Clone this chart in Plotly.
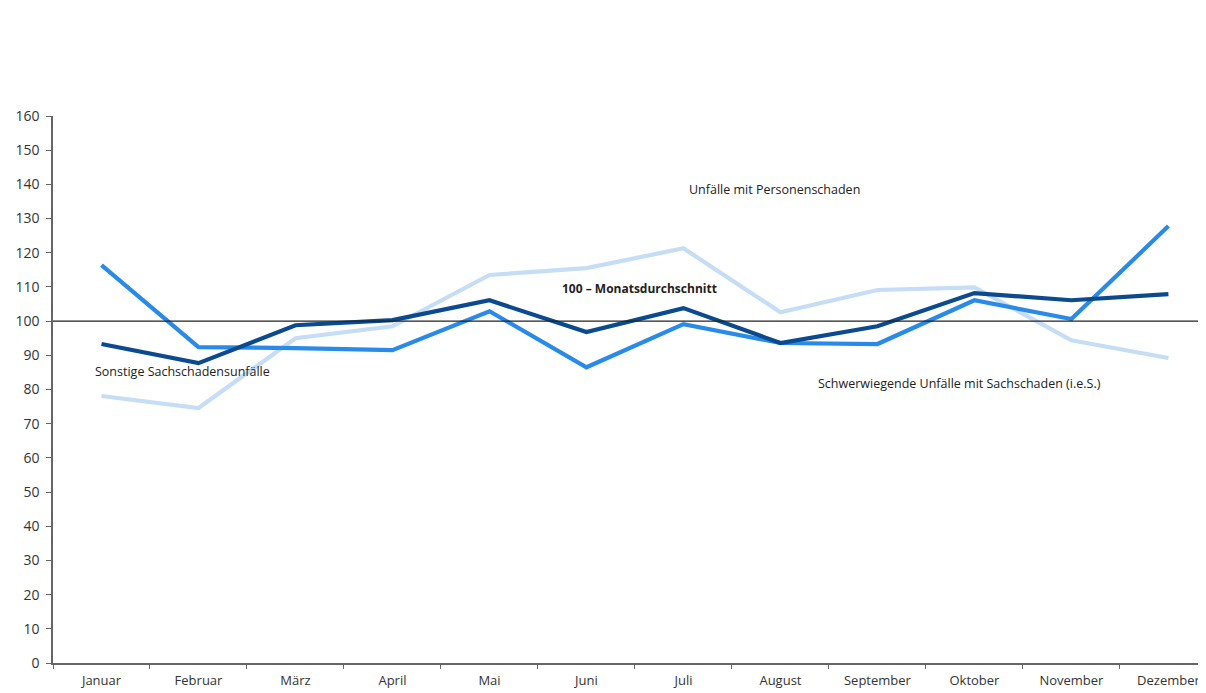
import plotly.graph_objects as go

months = ["Januar", "Februar", "März", "April", "Mai", "Juni", "Juli",
          "August", "September", "Oktober", "November", "Dezember"]
sonstige = [93.3, 87.7, 98.8, 100.3, 106.1, 96.8, 103.8, 93.6, 98.5, 108.2, 106.1, 107.9]
schwerwiegende = [116.4, 92.4, 92.1, 91.5, 102.9, 86.5, 99.1, 93.6, 93.3, 106.1, 100.6, 127.8]
personenschaden = [78.1, 74.6, 95.0, 98.5, 113.5, 115.5, 121.3, 102.6, 109.1, 109.9, 94.4, 89.2]
y_ticks = list(range(0, 161, 10))

fig = go.Figure()
series = [
    ("Unfälle mit Personenschaden", personenschaden, "#c6ddf6"),
    ("Schwerwiegende Unfälle mit Sachschaden (i.e.S.)", schwerwiegende, "#2a8ae8"),
    ("Sonstige Sachschadensunfälle", sonstige, "#0b4a8e"),
]
for name, vals, col in series:
    fig.add_trace(go.Scatter(x=months, y=vals, mode="lines", name=name,
                             line=dict(color=col, width=4.2)))

fig.add_shape(type="line", xref="paper", yref="y", x0=0, x1=1, y0=100, y1=100,
              line=dict(color="#222222", width=1.2))

ann_font = dict(family="Open Sans, Liberation Sans, sans-serif", size=12.5, color="#222222")
bold_font = dict(family="Open Sans, Liberation Sans, sans-serif", size=12, color="#222222")
fig.add_annotation(x=6.94, y=138.6, text="Unfälle mit Personenschaden", showarrow=False, font=ann_font)
fig.add_annotation(x=5.55, y=109.4, text="<b>100 – Monatsdurchschnitt</b>", showarrow=False, font=bold_font)
fig.add_annotation(x=0.84, y=85.4, text="Sonstige Sachschadensunfälle", showarrow=False, font=ann_font)
fig.add_annotation(x=8.85, y=81.9, text="Schwerwiegende Unfälle mit Sachschaden (i.e.S.)",
                   showarrow=False, font=ann_font)

fig.update_layout(
    width=1206, height=693,
    margin=dict(l=45, r=0, t=108, b=38),
    paper_bgcolor="white", plot_bgcolor="white",
    showlegend=False,
    font=dict(family="Open Sans, Liberation Sans, sans-serif", size=13, color="#333333"),
)
fig.update_xaxes(type="category", range=[-0.5, 11.47], tickson="boundaries",
                 ticks="outside", ticklen=4, tickcolor="#666666",
                 showline=True, linecolor="#666666", linewidth=1.5,
                 showgrid=False, zeroline=False, tickfont=dict(size=13),
                 ticklabelstandoff=5)
fig.update_yaxes(range=[0, 160], tickvals=y_ticks, ticks="outside", ticklen=5,
                 tickcolor="#666666", showline=True, linecolor="#666666", linewidth=1.5,
                 showgrid=False, zeroline=False, tickfont=dict(size=14),
                 ticklabelstandoff=4)

fig.write_html("out.html")
